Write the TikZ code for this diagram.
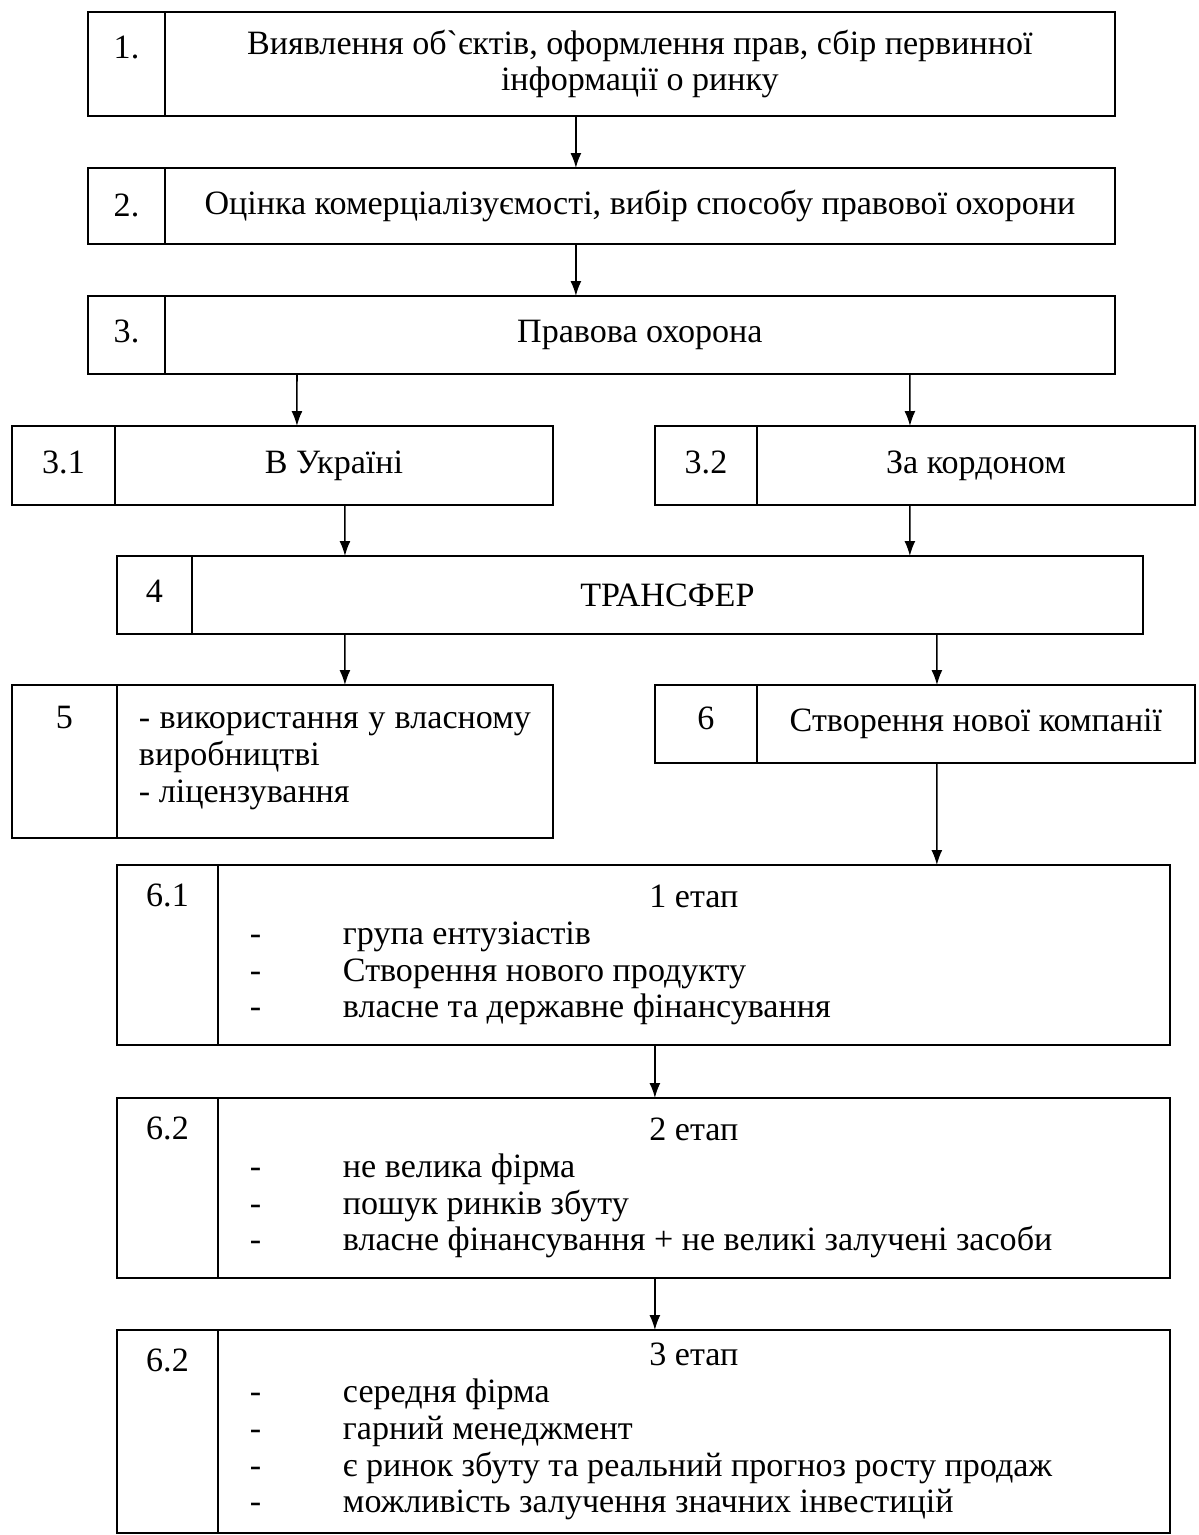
\documentclass[tikz,border=0pt]{standalone}
\usepackage{fontspec}
\setmainfont{Liberation Serif}
\usetikzlibrary{positioning,arrows.meta}
\tikzset{cell/.style = {draw,rectangle,line width=1.3pt,outer sep=0pt,inner sep=0pt}}
\tikzset{numcell/.style = {cell,anchor=north west}}
\tikzset{txtcell/.style = {cell,align=center}}
\tikzset{num/.style = {anchor=center,inner sep=0pt}}
\tikzset{arrow/.style = {-{Latex[length=0.3cm,width=0.22cm]},line width=0.9pt}}
\newcommand{\stageitem}[1]{\makebox[17.76cm][l]{\makebox[1.86cm][l]{-}#1}}

\begin{document}
\begin{tikzpicture}[x=0.02cm,y=-0.02cm,font=\fontsize{19.4}{21}\selectfont]
                    \useasboundingbox (0,0) rectangle (1199,1535);

                    \node [numcell,minimum width=1.54cm,minimum height=2.08cm] (n1) at (88,12) {};
                    \node [txtcell,minimum width=19cm,minimum height=2.08cm,right=0pt of n1] (t1)
                        {Виявлення об\textasciigrave єктів, оформлення прав, сбір первинної\\інформації о ринку};
                    \node [num] (l1) at ([yshift=-0.7cm]n1.north) {1.};

                    \node [numcell,minimum width=1.54cm,minimum height=1.52cm] (n2) at (88,168) {};
                    \node [txtcell,minimum width=19cm,minimum height=1.52cm,right=0pt of n2] (t2)
                        {Оцінка комерціалізуємості, вибір способу правової охорони};
                    \node [num] (l2) at ([yshift=-0.74cm]n2.north) {2.};

                    \node [numcell,minimum width=1.54cm,minimum height=1.56cm] (n3) at (88,296) {};
                    \node [txtcell,minimum width=19cm,minimum height=1.56cm,right=0pt of n3] (t3) {Правова охорона};
                    \node [num] (l3) at ([yshift=-0.7cm]n3.north) {3.};

                    \node [numcell,minimum width=2.06cm,minimum height=1.58cm] (n31) at (12,426) {};
                    \node [txtcell,minimum width=8.76cm,minimum height=1.58cm,right=0pt of n31] (t31) {В Україні};
                    \node [num] (l31) at ([yshift=-0.72cm]n31.north) {3.1};

                    \node [numcell,minimum width=2.04cm,minimum height=1.58cm] (n32) at (655,426) {};
                    \node [txtcell,minimum width=8.76cm,minimum height=1.58cm,right=0pt of n32] (t32) {За кордоном};
                    \node [num] (l32) at ([yshift=-0.72cm]n32.north) {3.2};

                    \node [numcell,minimum width=1.5cm,minimum height=1.56cm] (n4) at (117,556) {};
                    \node [txtcell,minimum width=19.02cm,minimum height=1.56cm,right=0pt of n4] (t4) {ТРАНСФЕР};
                    \node [num] (l4) at ([yshift=-0.7cm]n4.north) {4};

                    \node [numcell,minimum width=2.1cm,minimum height=3.06cm] (n5) at (12,685) {};
                    \node [cell,minimum width=8.72cm,minimum height=3.06cm,text width=7.84cm,align=justify,right=0pt of n5] (t5)
                        {- використання у власному виробництві\\- ліцензування};
                    \node [num] (l5) at ([yshift=-0.66cm]n5.north) {5};

                    \node [numcell,minimum width=2.04cm,minimum height=1.56cm] (n6) at (655,685) {};
                    \node [txtcell,minimum width=8.76cm,minimum height=1.56cm,right=0pt of n6] (t6) {Створення нової компанії};
                    \node [num] (l6) at ([yshift=-0.66cm]n6.north) {6};

                    \node [numcell,minimum width=2.02cm,minimum height=3.6cm] (n61) at (117,865) {};
                    \node [txtcell,minimum width=19.04cm,minimum height=3.6cm,right=0pt of n61] (t61)
                        {1 етап\\\stageitem{група ентузіастів}\\\stageitem{Створення нового продукту}\\\stageitem{власне та державне фінансування}};
                    \node [num] (l61) at ([yshift=-0.6cm]n61.north) {6.1};

                    \node [numcell,minimum width=2.02cm,minimum height=3.6cm] (n62) at (117,1098) {};
                    \node [txtcell,minimum width=19.04cm,minimum height=3.6cm,right=0pt of n62] (t62)
                        {2 етап\\\stageitem{не велика фірма}\\\stageitem{пошук ринків збуту}\\\stageitem{власне фінансування + не великі залучені засоби}};
                    \node [num] (l62) at ([yshift=-0.6cm]n62.north) {6.2};

                    \node [numcell,minimum width=2.02cm,minimum height=4.06cm] (n63) at (117,1330) {};
                    \node [txtcell,minimum width=19.04cm,minimum height=4.06cm,right=0pt of n63] (t63)
                        {3 етап\\\stageitem{середня фірма}\\\stageitem{гарний менеджмент}\\\stageitem{є ринок збуту та реальний прогноз росту продаж}\\\stageitem{можливість залучення значних інвестицій}};
                    \node [num] (l63) at ([yshift=-0.6cm]n63.north) {6.2};

                    \draw [arrow] ([xshift=-1.28cm]t1.south) -- ([xshift=-1.28cm]t2.north);
                    \draw [arrow] ([xshift=-1.28cm]t2.south) -- ([xshift=-1.28cm]t3.north);
                    \draw [arrow] ([xshift=-6.86cm]t3.south) -- ([xshift=-0.74cm]t31.north);
                    \draw [arrow] ([xshift=5.4cm]t3.south) -- ([xshift=-1.32cm]t32.north);
                    \draw [arrow] ([xshift=0.22cm]t31.south) -- ([xshift=-6.45cm]t4.north);
                    \draw [arrow] ([xshift=-1.32cm]t32.south) -- ([xshift=4.85cm]t4.north);
                    \draw [arrow] ([xshift=-6.45cm]t4.south) -- ([xshift=0.2cm]t5.north);
                    \draw [arrow] ([xshift=5.39cm]t4.south) -- ([xshift=-0.78cm]t6.north);
                    \draw [arrow] ([xshift=-0.78cm]t6.south) -- ([xshift=4.86cm]t61.north);
                    \draw [arrow] ([xshift=-0.78cm]t61.south) -- ([xshift=-0.78cm]t62.north);
                    \draw [arrow] ([xshift=-0.78cm]t62.south) -- ([xshift=-0.78cm]t63.north);
                \end{tikzpicture}
\end{document}
